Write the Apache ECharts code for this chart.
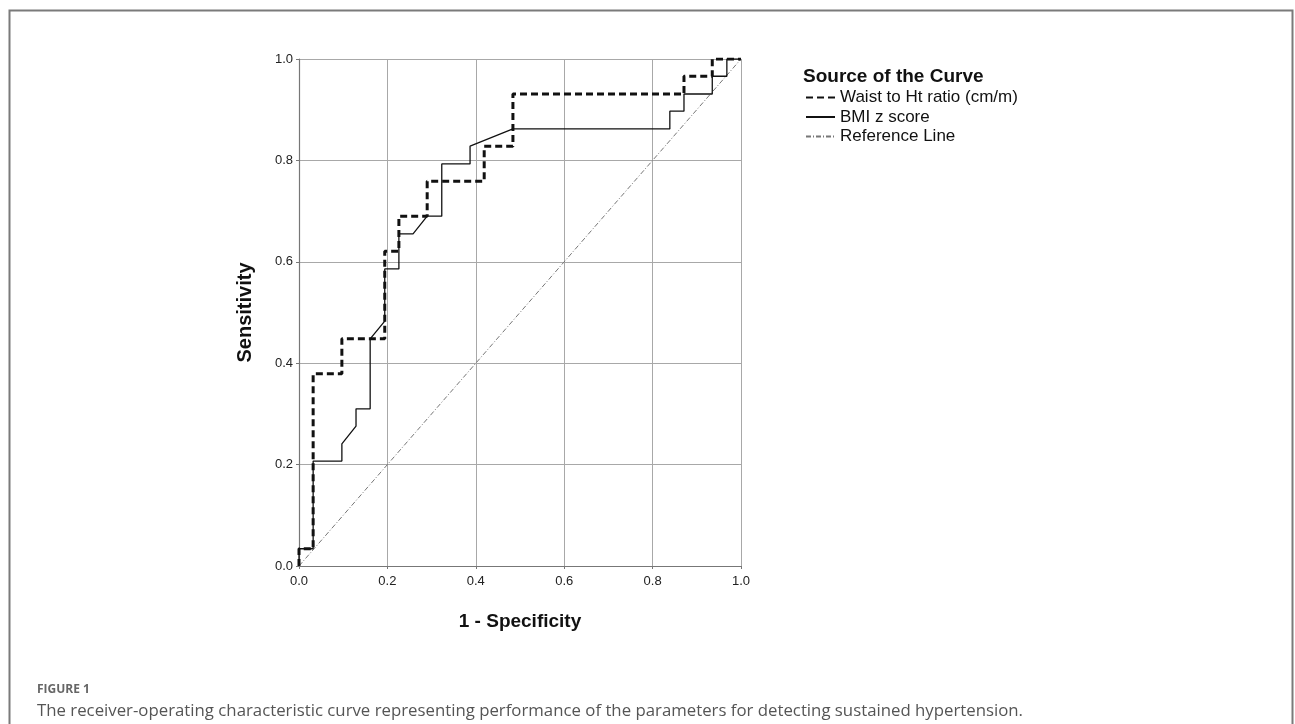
<!DOCTYPE html>
<html>
<head>
<meta charset="utf-8">
<script src="https://cdn.jsdelivr.net/npm/echarts@6/dist/echarts.min.js"></script>
<style>
html,body{margin:0;padding:0;background:#fff;}
#chart{width:1295px;height:724px;}
</style>
</head>
<body>
<div id="chart"></div>
<script>
// ---- data ----
const xTicks = [0.0, 0.2, 0.4, 0.6, 0.8, 1.0];
const yTicks = [0.0, 0.2, 0.4, 0.6, 0.8, 1.0];

const waistName = 'Waist to Ht ratio (cm/m)';
const waistX = [0, 0, 0.032, 0.032, 0.097, 0.097, 0.194, 0.194, 0.226, 0.226, 0.290, 0.290, 0.419, 0.419, 0.484, 0.484, 0.871, 0.871, 0.935, 0.935, 1.0];
const waistY = [0, 0.034, 0.034, 0.379, 0.379, 0.448, 0.448, 0.621, 0.621, 0.690, 0.690, 0.759, 0.759, 0.828, 0.828, 0.931, 0.931, 0.966, 0.966, 1.0, 1.0];

const bmiName = 'BMI z score';
const bmiX = [0, 0, 0.032, 0.032, 0.097, 0.097, 0.129, 0.129, 0.161, 0.161, 0.194, 0.194, 0.226, 0.226, 0.258, 0.290, 0.323, 0.323, 0.387, 0.387, 0.484, 0.839, 0.839, 0.871, 0.871, 0.935, 0.935, 0.968, 0.968, 1.0];
const bmiY = [0, 0.034, 0.034, 0.207, 0.207, 0.241, 0.276, 0.310, 0.310, 0.448, 0.483, 0.586, 0.586, 0.655, 0.655, 0.690, 0.690, 0.793, 0.793, 0.828, 0.862, 0.862, 0.897, 0.897, 0.931, 0.931, 0.966, 0.966, 1.0, 1.0];

const refName = 'Reference Line';
const refX = [0, 1];
const refY = [0, 1];

const legendTitle = 'Source of the Curve';
const xTitle = '1 - Specificity';
const yTitle = 'Sensitivity';
const figLabel = 'FIGURE 1';
const caption = 'The receiver-operating characteristic curve representing performance of the parameters for detecting sustained hypertension.';

// ---- build ----
const zip = (xs, ys) => xs.map((x, i) => [x, ys[i]]);
const chart = echarts.init(document.getElementById('chart'), null, {renderer: 'canvas'});
const axisFont = 'Liberation Sans, Arial, sans-serif';
const capFont = 'Open Sans, Lato, sans-serif';

const gridL = 299, gridT = 59, gridW = 442, gridH = 507;

const axisCommon = {
  type: 'value', min: 0, max: 1, interval: 0.2,
  nameLocation: 'middle',
  nameTextStyle: {fontFamily: axisFont, fontWeight: 'bold', fontSize: 19, color: '#111'},
  axisLine: {show: true, lineStyle: {color: '#777', width: 1.2}},
  axisTick: {show: true, length: 3, lineStyle: {color: '#777'}},
  axisLabel: {fontFamily: axisFont, fontSize: 13, color: '#222',
    formatter: v => v.toFixed(1)},
  splitLine: {show: true, lineStyle: {color: '#a8a8a8', width: 1}}
};

chart.setOption({
  animation: false,
  backgroundColor: '#ffffff',
  grid: {left: gridL, top: gridT, width: gridW, height: gridH, containLabel: false},
  xAxis: Object.assign({}, axisCommon, {
    name: xTitle, nameGap: 46,
    axisLabel: Object.assign({}, axisCommon.axisLabel, {margin: 9})
  }),
  yAxis: Object.assign({}, axisCommon, {
    name: yTitle, nameGap: 44, nameRotate: 90,
    nameTextStyle: Object.assign({}, axisCommon.nameTextStyle, {fontSize: 20}),
    axisLabel: Object.assign({}, axisCommon.axisLabel, {margin: 6})
  }),
  legend: {
    orient: 'vertical', left: 800, top: 84,
    itemWidth: 29, itemHeight: 12, itemGap: 2.5,
    data: [waistName, bmiName, refName],
    itemStyle: {opacity: 0},
    textStyle: {fontFamily: axisFont, fontSize: 17, color: '#111'}
  },
  title: [
    {text: legendTitle, left: 803, top: 67, padding: 0,
     textStyle: {fontFamily: axisFont, fontWeight: 'bold', fontSize: 19, color: '#111'}},
    {text: figLabel, left: 37, top: 684, padding: 0,
     textStyle: {fontFamily: capFont, fontWeight: 'bold', fontSize: 12, color: '#666'}},
    {text: caption, left: 37, top: 703, padding: 0,
     textStyle: {fontFamily: capFont, fontWeight: 'normal', fontSize: 16.8, color: '#555'}}
  ],
  graphic: [
    {type: 'polyline', silent: true, z: 0,
     shape: {points: [[9.5, 730], [9.5, 10.5], [1292.5, 10.5], [1292.5, 730]]},
     style: {stroke: '#7a7a7a', lineWidth: 2, fill: null}}
  ],
  series: [
    {name: refName, type: 'line', data: zip(refX, refY), symbol: 'none',
     lineStyle: {color: '#777', width: 1, type: [5, 2, 1, 2]}, z: 2},
    {name: bmiName, type: 'line', data: zip(bmiX, bmiY), symbol: 'none',
     lineStyle: {color: '#111', width: 1.3, type: 'solid'}, z: 3},
    {name: waistName, type: 'line', data: zip(waistX, waistY), symbol: 'none',
     lineStyle: {color: '#111', width: 3, type: [7, 4]}, z: 4}
  ]
});
</script>
</body>
</html>
